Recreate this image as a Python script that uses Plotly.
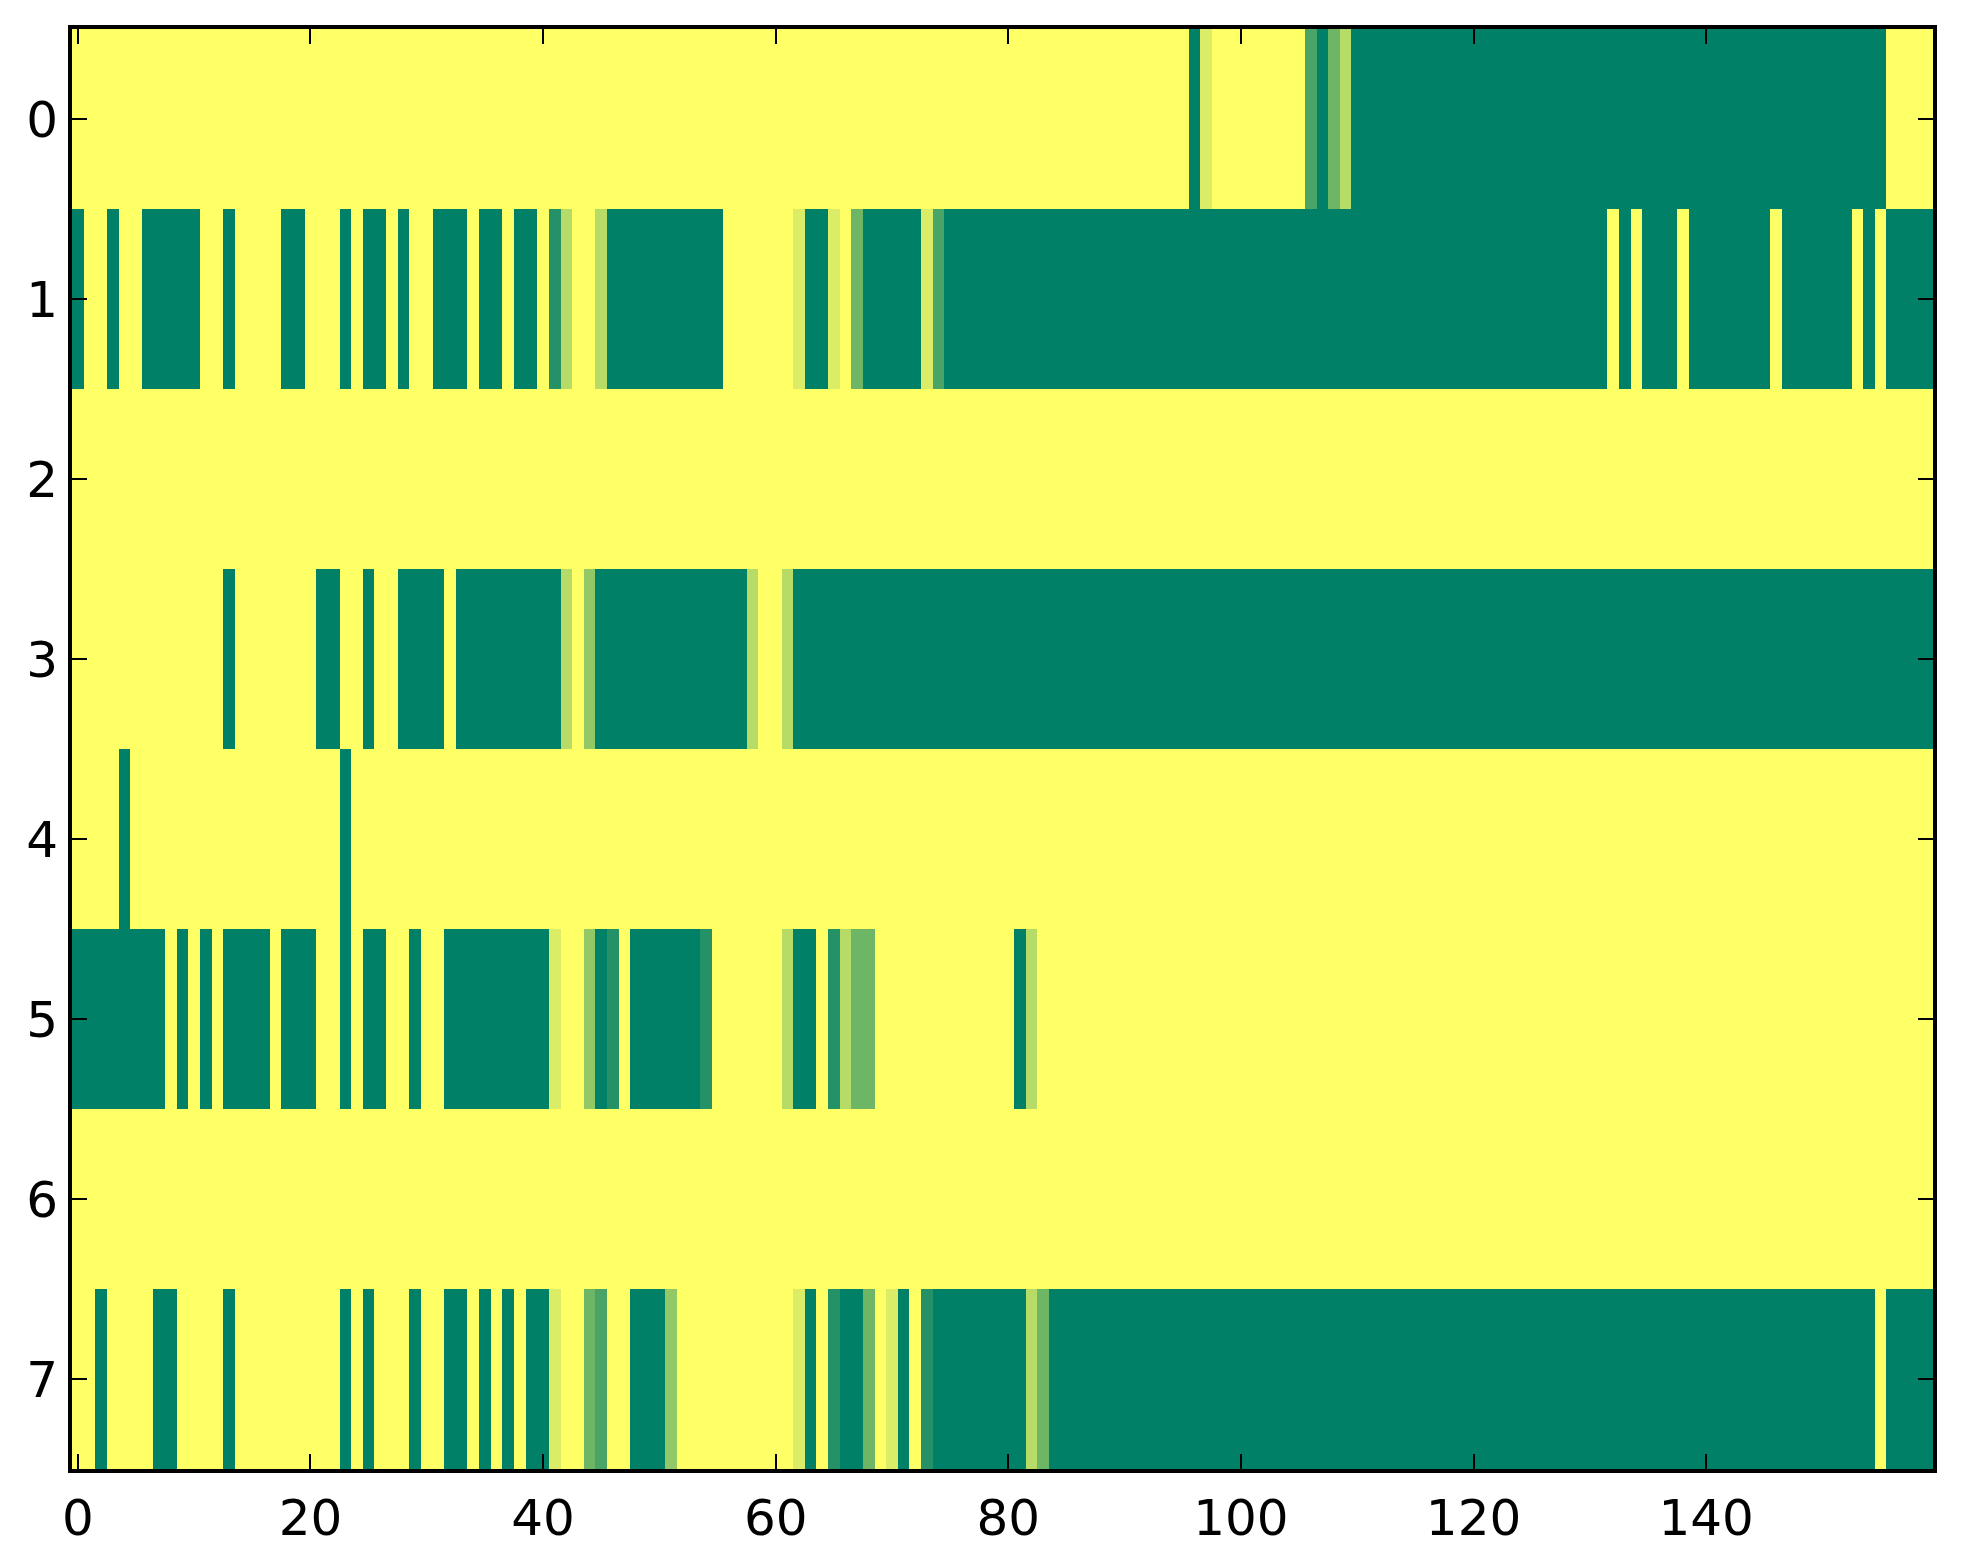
import plotly.graph_objects as go

# cell levels (0 = yellow ... 7 = dark green), 10 columns per group
row0 = "0000000000 0000000000 0000000000 0000000000 0000000000 0000000000 0000000000 0000000000 0000000000 0000007100 0000005742 7777777777 7777777777 7777777777 7777777777 7777770000"
row1 = "7007007777 7007000077 0007077070 0777077077 0620027777 7777770000 0017710477 7771577777 7777777777 7777777777 7777777777 7777777777 7777777777 7707077707 7777770777 7770707777"
row2 = "0000000000 0000000000 0000000000 0000000000 0000000000 0000000000 0000000000 0000000000 0000000000 0000000000 0000000000 0000000000 0000000000 0000000000 0000000000 0000000000"
row3 = "0000000000 0007000000 0770070077 7707777777 7720377777 7777777720 0277777777 7777777777 7777777777 7777777777 7777777777 7777777777 7777777777 7777777777 7777777777 7777777777"
row4 = "0000700000 0000000000 0007000000 0000000000 0000000000 0000000000 0000000000 0000000000 0000000000 0000000000 0000000000 0000000000 0000000000 0000000000 0000000000 0000000000"
row5 = "7777777707 0707777077 7007077007 0077777777 7100376077 7777600000 0277062440 0000000000 0720000000 0000000000 0000000000 0000000000 0000000000 0000000000 0000000000 0000000000"
row6 = "0000000000 0000000000 0000000000 0000000000 0000000000 0000000000 0000000000 0000000000 0000000000 0000000000 0000000000 0000000000 0000000000 0000000000 0000000000 0000000000"
row7 = "0070000770 0007000000 0007070007 0077070707 7100450077 7300000000 0017067740 1706777777 7724777777 7777777777 7777777777 7777777777 7777777777 7777777777 7777777777 7777707777"

rows = [row0, row1, row2, row3, row4, row5, row6, row7]
z = [[int(c) for c in r.replace(" ", "")] for r in rows]
xcols = list(range(len(z[0])))
yrows = list(range(len(z)))

fig = go.Figure()
fig.add_trace(go.Heatmap(
    z=z, x=xcols, y=yrows, zmin=0, zmax=7,
    colorscale=[[0, "rgb(255,255,102)"], [1, "rgb(0,128,102)"]],
    showscale=False, xgap=0, ygap=0))

axis_common = dict(showline=True, linecolor="black", linewidth=4, mirror="allticks",
                   ticks="inside", ticklen=15, tickwidth=2, tickcolor="black",
                   showgrid=False, zeroline=False, automargin=False,
                   tickfont=dict(family="DejaVu Sans", size=50, color="black"))

fig.update_xaxes(range=[-0.5, 159.5], tickvals=[0, 20, 40, 60, 80, 100, 120, 140],
                 ticklabelstandoff=2, **axis_common)
fig.update_yaxes(range=[7.5, -0.5], tickvals=yrows, ticklabelstandoff=0, **axis_common)

# page body adds 8px, so the figure is a bit smaller than the window
fig.update_layout(width=1955, height=1556, margin=dict(l=64, r=30, t=21, b=95),
                  plot_bgcolor="white", paper_bgcolor="white")

fig.write_html("out.html")
